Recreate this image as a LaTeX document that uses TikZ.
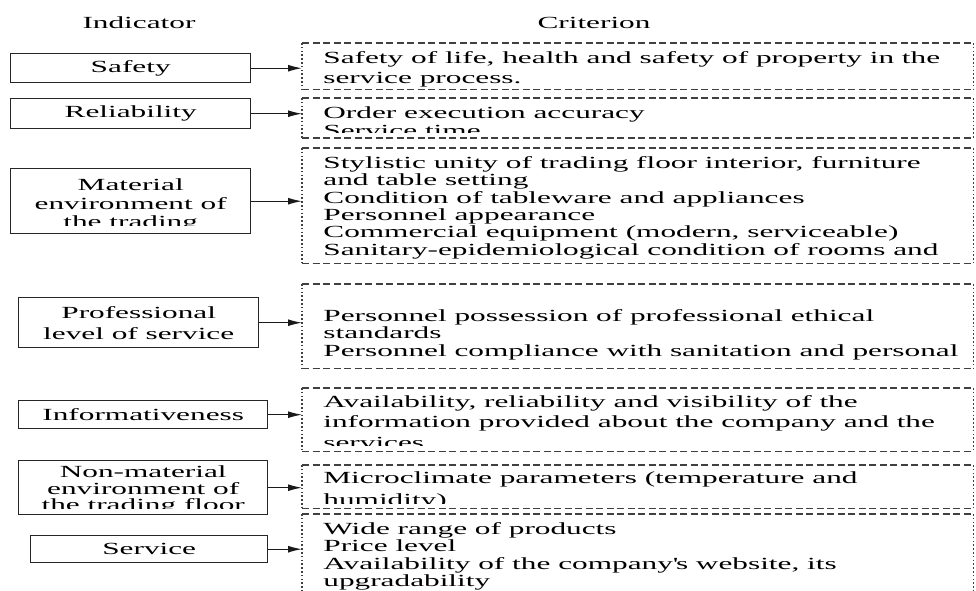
\documentclass[tikz,border=0pt]{standalone}
\usepackage{fontspec}
\setmainfont{Liberation Serif}[FakeStretch=1.84]
\usetikzlibrary{arrows.meta,positioning}

% #1: offset of the last baseline from the top, #2: line skip, #3: clip inset at the bottom, #4: lines
\tikzset{
  crtext/.style n args={4}{path picture={
      \clip (path picture bounding box.north west) rectangle ([yshift=#3pt]path picture bounding box.south east);
      \node[anchor=base west,inner sep=0pt,draw=none,minimum width=0pt,minimum height=0pt,align=left,font=\fontsize{17}{#2}\selectfont]
        at ([xshift=21pt,yshift=-#1pt]path picture bounding box.north west) {#4};}},
  intext/.style n args={4}{path picture={
      \clip (path picture bounding box.north west) rectangle ([yshift=#3pt]path picture bounding box.south east);
      \node[anchor=base,inner sep=0pt,draw=none,minimum width=0pt,minimum height=0pt,align=center,font=\fontsize{17}{#2}\selectfont]
        at ([yshift=-#1pt]path picture bounding box.north) {#4};}},
}

\begin{document}
\begin{tikzpicture}[x=1pt,y=1pt,node font=\fontsize{17}{20}\selectfont]
	\tikzstyle{indicator}=[draw=black!85,line width=1.4pt,anchor=north west,inner sep=0pt,align=center]
	\tikzstyle{criterion}=[anchor=north west,inner sep=0pt,minimum width=671pt]
	\tikzstyle{dashline}=[black!75,line width=1.2pt,dash pattern=on 7pt off 3.5pt]
	\tikzstyle{dotline}=[black!75,line width=1.6pt,dash pattern=on 1.6pt off 2.2pt]
	\tikzstyle{link}=[-{Latex[length=14pt,width=7pt]},line width=1.3pt,black!90]
	
	\useasboundingbox (0,0) rectangle (976,-590);
	
	\node[anchor=base] (IND) at (139,-28) {Indicator};
	\node[anchor=base] (CRI) at (594,-28) {Criterion};
	
	% indicators
	\node[indicator,minimum width=240pt,minimum height=29pt] (SAF) at (10,-53) {Safety};
	\node[indicator,minimum width=240pt,minimum height=30pt] (REL) at (10,-98) {Reliability};
	\node[indicator,minimum width=240pt,minimum height=65pt,intext={59}{18.5}{8}{Material\\environment of\\the trading}] (MAT) at (10,-168) {};
	\node[indicator,minimum width=240pt,minimum height=50pt,font=\fontsize{17}{21}\selectfont] (PRO) at (18,-297) {Professional\\level of service};
	\node[indicator,minimum width=249pt,minimum height=28pt] (INF) at (18,-400) {Informativeness};
	\node[indicator,minimum width=249pt,minimum height=54pt,intext={50}{16.5}{6}{Non-material\\environment of\\the trading floor}] (NON) at (18,-460) {};
	\node[indicator,minimum width=237pt,minimum height=27pt] (SER) at (30,-535) {Service};
	
	% criteria
	\node[criterion,minimum height=46pt,crtext={40}{20}{0}{Safety of life, health and safety of property in the\\service process.}] (CSAF) at (302,-43) {};
	\node[criterion,minimum height=39.5pt,crtext={38}{18}{5.5}{Order execution accuracy\\Service time}] (CREL) at (302,-98) {};
	\node[criterion,minimum height=115pt,crtext={107}{17.4}{0}{Stylistic unity of trading floor interior, furniture\\and table setting\\Condition of tableware and appliances\\Personnel appearance\\Commercial equipment (modern, serviceable)\\Sanitary-epidemiological condition of rooms and}] (CMAT) at (302,-148) {};
	\node[criterion,minimum height=84pt,crtext={72}{17.5}{0}{Personnel possession of professional ethical\\standards\\Personnel compliance with sanitation and personal}] (CPRO) at (302,-284) {};
	\node[criterion,minimum height=63pt,crtext={60}{20.5}{6}{Availability, reliability and visibility of the\\information provided about the company and the\\services}] (CINF) at (302,-388) {};
	\node[criterion,minimum height=43pt,crtext={40}{22}{5}{Microclimate parameters (temperature and\\humidity)}] (CNON) at (302,-465) {};
	\node[criterion,minimum height=90pt,crtext={72.5}{17.5}{0}{Wide range of products\\Price level\\Availability of the company\textquotesingle s website, its\\upgradability}] (CSER) at (302,-514) {};
	
	\foreach \c in {CSAF,CREL,CMAT,CPRO,CINF,CNON,CSER} {
		\draw[dashline] (\c.north west) -- (\c.north east) (\c.south west) -- (\c.south east);
		\draw[dotline] (\c.north west) -- (\c.south west) (\c.north east) -- (\c.south east);
	}
	
	\path[link]
	(SAF.east) edge (SAF.east -| CSAF.west)
	(REL.east) edge (REL.east -| CREL.west)
	(MAT.east) edge (MAT.east -| CMAT.west)
	(PRO.east) edge (PRO.east -| CPRO.west)
	(INF.east) edge (INF.east -| CINF.west)
	(NON.east) edge (NON.east -| CNON.west)
	(SER.east) edge (SER.east -| CSER.west);
\end{tikzpicture}
\end{document}
